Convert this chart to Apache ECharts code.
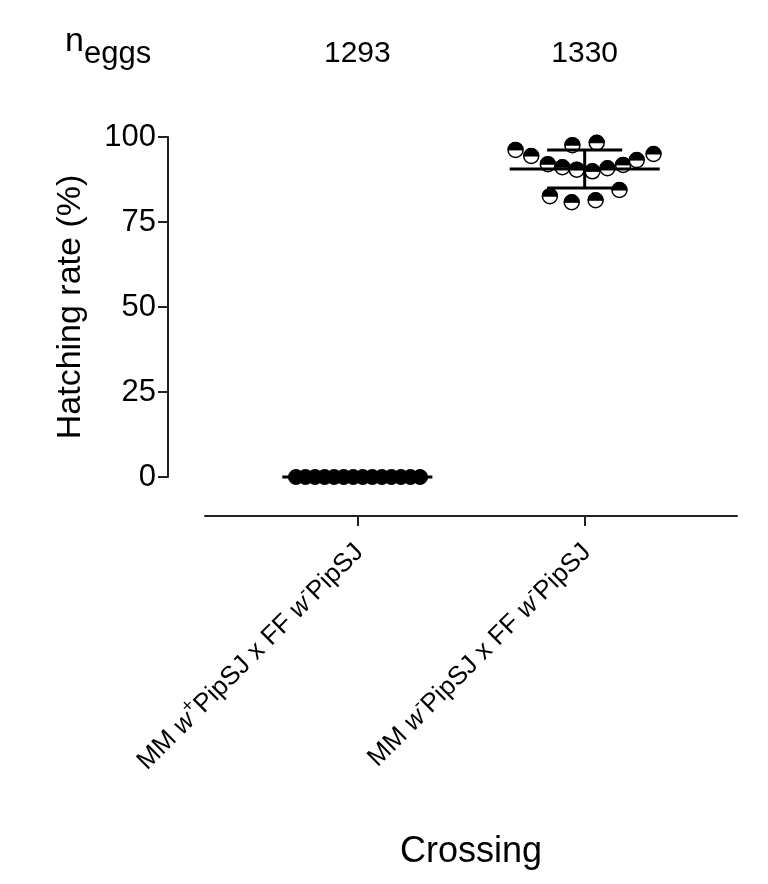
<!DOCTYPE html>
<html>
<head>
<meta charset="utf-8">
<script src="https://cdn.jsdelivr.net/npm/echarts@6/dist/echarts.min.js"></script>
<style>
html,body{margin:0;padding:0;background:#fff;}
#chart{width:768px;height:884px;}
</style>
</head>
<body>
<div id="chart"></div>
<script>
// ---- data ----
const categories = ['wplus', 'wminus'];
const eggCounts = ['1293', '1330'];
const yTicks = [0, 25, 50, 75, 100];
// group 0: MM w+PipSJ x FF w-PipSJ  (jitter offset within category, hatching rate %)
const group0Jitter = [-0.27, -0.228, -0.186, -0.144, -0.102, -0.06, -0.018, 0.024, 0.066, 0.108, 0.15, 0.192, 0.234, 0.276];
const group0Values = [0, 0, 0, 0, 0, 0, 0, 0, 0, 0, 0, 0, 0, 0];
// group 1: MM w-PipSJ x FF w-PipSJ
const group1Jitter = [-0.304, -0.235, -0.162, -0.098, -0.035, -0.054, 0.053, 0.034, 0.100, 0.169, 0.229, 0.303, -0.153, -0.057, 0.048, 0.153];
const group1Values = [96.2, 94.4, 92.0, 91.1, 90.4, 97.6, 98.3, 89.9, 90.8, 91.8, 93.2, 95.0, 82.6, 80.8, 81.4, 84.4];

const FONT = '"Liberation Sans", Arial, Helvetica, sans-serif';

function meanSd(arr) {
  const n = arr.length;
  const m = arr.reduce((a, b) => a + b, 0) / n;
  const v = arr.reduce((a, b) => a + (b - m) * (b - m), 0) / (n - 1);
  return [m, Math.sqrt(v)];
}
const s0 = meanSd(group0Values), s1 = meanSd(group1Values);
const summary = [[0, s0[0], s0[1]], [1, s1[0], s1[1]]];

const pts0 = group0Values.map((v, i) => [0 + group0Jitter[i], v]);
const pts1 = group1Values.map((v, i) => [1 + group1Jitter[i], v]);

const labelRich = {
  t: { fontFamily: FONT, fontSize: 26, color: '#000', verticalAlign: 'bottom' },
  w: { fontFamily: FONT, fontSize: 26, color: '#000', fontStyle: 'italic', verticalAlign: 'bottom' },
  sup: { fontFamily: FONT, fontSize: 19, color: '#000', verticalAlign: 'bottom', padding: [0, 0, 13, 0] }
};
const catLabels = [
  '{t|MM }{w|w}{sup|+}{t|PipSJ x FF }{w|w}{sup|-}{t|PipSJ}',
  '{t|MM }{w|w}{sup|-}{t|PipSJ x FF }{w|w}{sup|-}{t|PipSJ}'
];

const chart = echarts.init(document.getElementById('chart'));
chart.setOption({
  animation: false,
  backgroundColor: '#fff',
  title: {
    text: '{n|n}{sub|eggs}',
    left: 60, top: 20,
    textStyle: {
      fontWeight: 'normal',
      rich: {
        n: { fontFamily: FONT, fontSize: 34, color: '#000', fontWeight: 'normal', verticalAlign: 'bottom', padding: [0, 0, 11, 0] },
        sub: { fontFamily: FONT, fontSize: 31, color: '#000', fontWeight: 'normal', verticalAlign: 'bottom' }
      }
    }
  },
  grid: { left: 205, right: 31, top: 137, height: 340 },
  xAxis: [{
    type: 'value', min: -0.67, max: 1.67,
    position: 'bottom', offset: 39,
    splitLine: { show: false },
    axisLine: { show: true, onZero: false, lineStyle: { color: '#222', width: 2 } },
    axisTick: { show: true, customValues: [0, 1], length: 10, lineStyle: { color: '#222', width: 2 } },
    axisLabel: {
      customValues: [0, 1], rotate: 45, margin: 30,
      formatter: v => catLabels[Math.round(v)],
      rich: labelRich
    },
    name: 'Crossing', nameLocation: 'middle', nameGap: 318,
    nameTextStyle: { fontFamily: FONT, fontSize: 36, color: '#000' }
  }, {
    type: 'value', min: -0.67, max: 1.67,
    position: 'top',
    splitLine: { show: false },
    axisLine: { show: false, onZero: false }, axisTick: { show: false },
    axisLabel: {
      customValues: [0, 1], margin: 68,
      formatter: v => eggCounts[Math.round(v)],
      fontFamily: FONT, fontSize: 30, color: '#000'
    }
  }],
  yAxis: {
    type: 'value', min: 0, max: 100, interval: 25,
    offset: 37,
    splitLine: { show: false },
    axisLine: { show: true, onZero: false, lineStyle: { color: '#222', width: 2 } },
    axisTick: { show: true, length: 10, lineStyle: { color: '#222', width: 2 } },
    axisLabel: { margin: 12, fontFamily: FONT, fontSize: 31, color: '#000',
      formatter: v => yTicks.indexOf(v) >= 0 ? String(v) : '' },
    name: 'Hatching rate (%)', nameLocation: 'middle', nameGap: 80,
    nameTextStyle: { fontFamily: FONT, fontSize: 34, color: '#000' }
  },
  series: [{
    type: 'scatter', data: pts0, symbol: 'circle', symbolSize: 15, clip: false,
    itemStyle: { color: '#000', borderColor: '#000', borderWidth: 1, opacity: 1 },
    z: 3
  }, {
    type: 'custom', data: pts1, clip: false, z: 3,
    renderItem: function (params, api) {
      const p = api.coord([api.value(0), api.value(1)]);
      const r = 7.5;
      return {
        type: 'group',
        children: [{
          type: 'circle', shape: { cx: p[0], cy: p[1], r: r },
          style: { fill: '#fff', stroke: '#000', lineWidth: 1.5 }
        }, {
          type: 'sector', shape: { cx: p[0], cy: p[1], r: r, r0: 0, startAngle: Math.PI, endAngle: 2 * Math.PI },
          style: { fill: '#000', stroke: '#000', lineWidth: 1 }
        }]
      };
    }
  }, {
    type: 'custom', data: summary, clip: false, z: 5,
    renderItem: function (params, api) {
      const x = api.value(0), m = api.value(1), s = api.value(2);
      const st = { stroke: '#000', lineWidth: 3 };
      const a = api.coord([x - 0.33, m]), b = api.coord([x + 0.33, m]);
      const ul = api.coord([x - 0.165, m + s]), ur = api.coord([x + 0.165, m + s]);
      const ll = api.coord([x - 0.165, m - s]), lr = api.coord([x + 0.165, m - s]);
      const children = [{ type: 'line', shape: { x1: a[0], y1: a[1], x2: b[0], y2: b[1] }, style: st }];
      if (s > 0) {
        children.push({ type: 'line', shape: { x1: ul[0], y1: ul[1], x2: ur[0], y2: ur[1] }, style: st });
        children.push({ type: 'line', shape: { x1: ll[0], y1: ll[1], x2: lr[0], y2: lr[1] }, style: st });
        const c = api.coord([x, m]);
        children.push({ type: 'line', shape: { x1: c[0], y1: ul[1], x2: c[0], y2: ll[1] }, style: st });
      }
      return { type: 'group', children: children };
    }
  }]
});
</script>
</body>
</html>
